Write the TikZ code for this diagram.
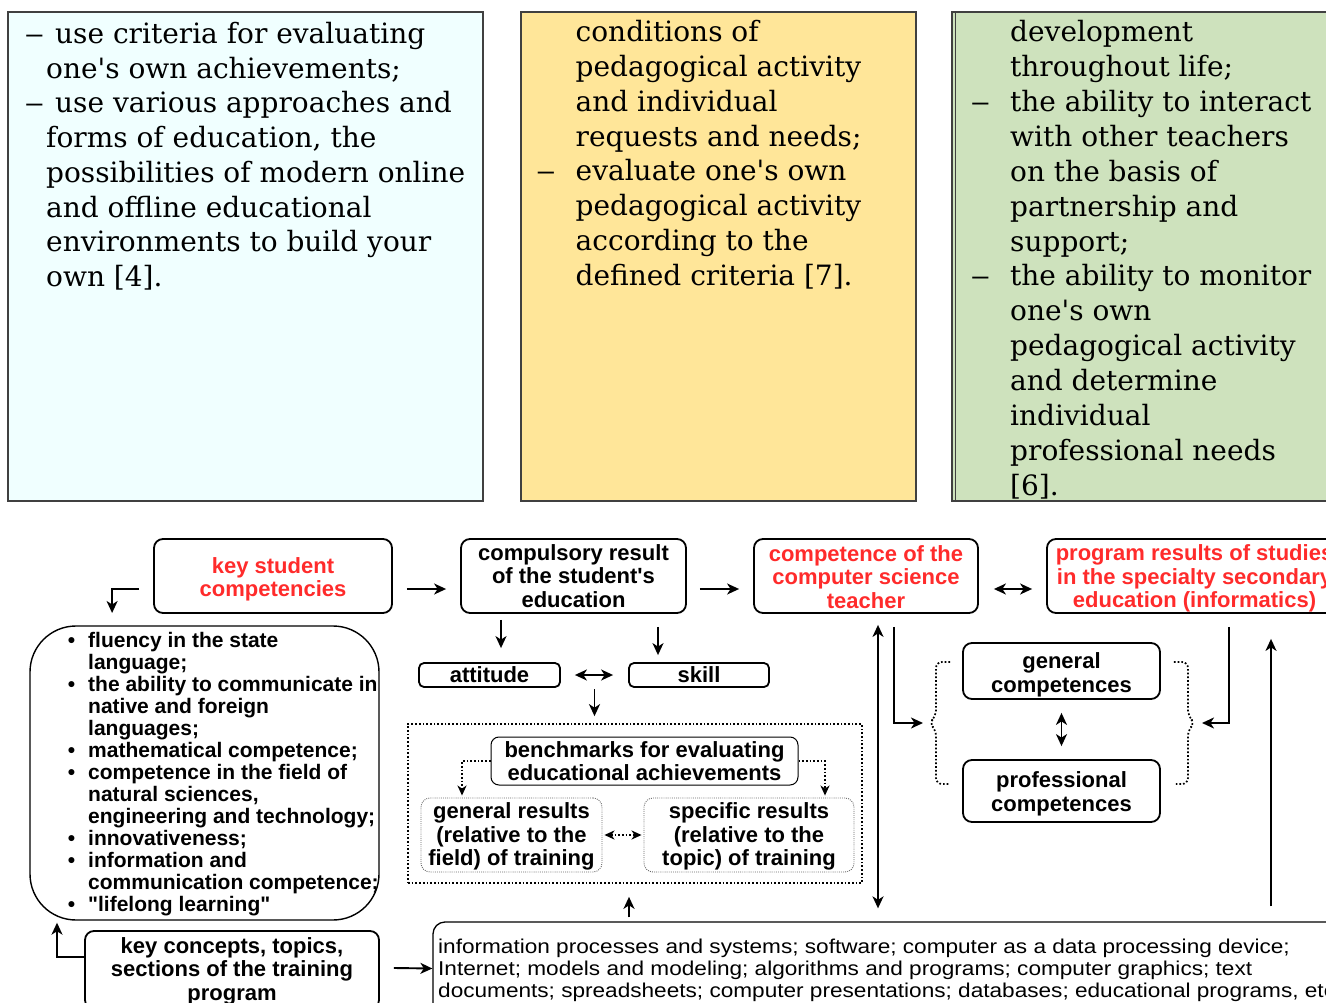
\documentclass[tikz,border=0pt]{standalone}
\usepackage{fontspec}
\setmainfont{DejaVu Serif}
\newfontfamily\serf{DejaVu Serif}
\newfontfamily\arialf{Liberation Sans}
\newfontfamily\arialw[FakeStretch=1.13]{Liberation Sans}
\usetikzlibrary{arrows.meta,calc}
\definecolor{pcyan}{HTML}{F0FFFF}
\definecolor{pyellow}{HTML}{FFE699}
\definecolor{pgreen}{HTML}{CEE2BD}
\definecolor{redtxt}{HTML}{FF2B2B}
\definecolor{pborder}{HTML}{404040}
\newcommand{\ldash}{\scalebox{1.4}[1]{–}}
\newcommand{\dA}{\hspace*{9pt}\llap{\ldash\hspace{11pt}}}
\newcommand{\dB}{\llap{\ldash\hspace{20pt}}}
\newcommand{\bul}{\llap{•\hspace{13pt}}}
\newcommand{\up}[1]{\rule{0pt}{#1pt}}
\tikzset{
  panel/.style={draw=pborder, line width=1.2pt},
  ptext/.style={anchor=base west, inner sep=0pt, font=\serf\fontsize{28}{34.75}\selectfont},
  bx/.style={draw, line width=1.8pt, rounded corners=9pt, inner sep=0pt, align=center,
    font=\arialf\bfseries\fontsize{22}{23.5}\selectfont},
  redt/.style={text=redtxt},
  ltext/.style={anchor=base west, inner sep=0pt, font=\arialf\bfseries\fontsize{21}{22}\selectfont},
  wtext/.style={anchor=base west, inner sep=0pt, font=\arialw\fontsize{20}{22}\selectfont},
  arr/.style={-{Stealth[length=12pt,width=11pt,inset=3.5pt]}, line width=1.9pt},
  darr/.style={{Stealth[length=12pt,width=11pt,inset=3.5pt]}-{Stealth[length=12pt,width=11pt,inset=3.5pt]}, line width=1.9pt},
  dots/.style={line width=1.7pt, dash pattern=on 1.7pt off 2pt},
  dotarr/.style={-{Stealth[length=10pt,width=9pt,inset=3pt]}, line width=1.7pt, dash pattern=on 1.7pt off 2pt},
  ddotarr/.style={{Stealth[length=10pt,width=9pt,inset=3pt]}-{Stealth[length=10pt,width=9pt,inset=3pt]}, line width=1.7pt, dash pattern=on 1.7pt off 2pt},
  resbox/.style={bx, draw=black!60, line width=0.9pt, dash pattern=on 0.9pt off 1.2pt},
}
\begin{document}
\begin{tikzpicture}[x=1pt,y=-1pt]
\useasboundingbox (0,0) rectangle (1326,1003);
% ---------- top panels ----------
\path[panel, fill=pcyan] (8,12) rectangle (483,501);
\path[panel, fill=pyellow] (521,12) rectangle (916,501);
\path[panel, fill=pgreen] (952,12) rectangle (1345,501);
\draw[pborder, line width=0.8pt] (955.5,12) -- (955.5,501);

\foreach \t [count=\i from 0] in {
  {\dA use criteria for evaluating},
  {one's own achievements;},
  {\dA use various approaches and},
  {forms of education, the},
  {possibilities of modern online},
  {and offline educational},
  {environments to build your},
  {own [4].}}
  \node[ptext] (la\i) at (46,43.5+34.75*\i) {\t};

\foreach \t [count=\i from 0] in {
  {conditions of},
  {pedagogical activity},
  {and individual},
  {requests and needs;},
  {\dB evaluate one's own},
  {pedagogical activity},
  {according to the},
  {defined criteria [7].}}
  \node[ptext] (ma\i) at (575.5,42+34.75*\i) {\t};

\foreach \t [count=\i from 0] in {
  {development},
  {throughout life;},
  {\dB the ability to interact},
  {with other teachers},
  {on the basis of},
  {partnership and},
  {support;},
  {\dB the ability to monitor},
  {one's own},
  {pedagogical activity},
  {and determine},
  {individual},
  {professional needs},
  {[6].}}
  \node[ptext] (ra\i) at (1010,42+34.85*\i) {\t};

% ---------- bottom diagram: boxes ----------
\node[bx, redt, minimum width=238, minimum height=74] (ksc) at (273,576) {\up{23}key student\\competencies};
\node[bx, minimum width=225, minimum height=74] (cres) at (573.5,576) {compulsory result\\of the student's\\education};
\node[bx, redt, minimum width=224, minimum height=74] (teach) at (866,576) {\up{18}competence of the\\computer science\\teacher};
\node[bx, redt, minimum width=295, minimum height=74] (prog) at (1194.5,576) {\up{21}program results of studies\\in the specialty secondary\\education (informatics)};
\node[bx, rounded corners=5pt, minimum width=141, minimum height=24] (att) at (489.5,675) {attitude};
\node[bx, rounded corners=5pt, minimum width=140, minimum height=24] (skill) at (699,675) {skill};
\node[dots, draw, minimum width=454, minimum height=159, inner sep=0pt] (bigdot) at (635,803.5) {};
\node[bx, line width=1pt, rounded corners=8pt, minimum width=307, minimum height=48] (bench) at (644.5,761) {benchmarks for evaluating\\educational achievements};
\node[resbox, minimum width=181, minimum height=74] (gres) at (511.5,835) {\up{19}general results\\(relative to the\\field) of training};
\node[resbox, minimum width=210, minimum height=74] (sres) at (749,835) {\up{19}specific results\\(relative to the\\topic) of training};
\node[bx, minimum width=197, minimum height=56] (gcomp) at (1061.5,671) {\up{24}general\\competences};
\node[bx, minimum width=197, minimum height=62] (pcomp) at (1061.5,791) {\up{22}professional\\competences};
\node[draw, line width=1.4pt, rounded corners=46pt, minimum width=349, minimum height=294, inner sep=0pt] (listbox) at (204.5,773) {};
\node[bx, minimum width=294, minimum height=78] (kcon) at (232,970) {\up{18}key concepts, topics,\\sections of the training\\program};
\node[draw, line width=1.3pt, rounded corners=12pt, minimum width=912, minimum height=93, inner sep=0pt] (wide) at (889,968.5) {};

\foreach \t [count=\i from 0] in {
  {\bul fluency in the state},
  {language;},
  {\bul the ability to communicate in},
  {native and foreign},
  {languages;},
  {\bul mathematical competence;},
  {\bul competence in the field of},
  {natural sciences,},
  {engineering and technology;},
  {\bul innovativeness;},
  {\bul information and},
  {communication competence;},
  {\bul "lifelong learning"}}
  \node[ltext] (li\i) at (88,647+22*\i) {\t};

\foreach \t [count=\i from 0] in {
  {information processes and systems; software; computer as a data processing device;},
  {Internet; models and modeling; algorithms and programs; computer graphics; text},
  {documents; spreadsheets; computer presentations; databases; educational programs, etc.}}
  \node[wtext] (wt\i) at (438,953+22*\i) {\t};

% ---------- connectors ----------
\draw[arr] ([shift={(14,13)}]ksc.east) -- ([shift={(-14,13)}]cres.west);
\draw[arr] ([shift={(13,13)}]cres.east) -- ([shift={(-14,13)}]teach.west);
\draw[darr] ([shift={(15,13)}]teach.east) -- ([shift={(-14,13)}]prog.west);
\draw[arr] ([shift={(-14,13)}]ksc.west) -- ++(-27,0) -- ++(0,24);
\draw[arr] ([shift={(-72.5,6)}]cres.south) -- ([shift={(11.5,-14)}]att.north);
\draw[arr] ([shift={(84.5,13)}]cres.south) -- ([shift={(-41,-7)}]skill.north);
\draw[darr] ([shift={(14,0)}]att.east) -- ([shift={(-15,0)}]skill.west);
\coordinate (mid) at ($(att.east)!0.5!(skill.west)$);
\coordinate (midb) at (mid |- bigdot.north);
\draw[arr] ([shift={(0,14)}]mid) -- ([shift={(0,-7)}]midb);
\draw[dotarr] (bench.west) -| ([shift={(-49.5,-2)}]gres.north);
\draw[dotarr] (bench.east) -| ([shift={(76,-2)}]sres.north);
\draw[ddotarr] ([shift={(2,0)}]gres.east) -- ([shift={(-2,0)}]sres.west);
\draw[arr] ([shift={(-260,-4)}]wide.north) -- ([shift={(-6,13)}]bigdot.south);
\draw[darr] ([shift={(12,11)}]teach.south) -- ([shift={(-11,-13)}]wide.north);
% braces
\coordinate (lbt) at (923,723);
\coordinate (rbt) at (1202,723);
\draw[dots, rounded corners=6pt] ([shift={(-12,-9)}]gcomp.west) -- (936,662) -- (936,716) -- (929,723) -- (936,730) -- (936,784) -- ([shift={(-12,-7)}]pcomp.west);
\draw[dots, rounded corners=6pt] ([shift={(13,-9)}]gcomp.east) -- (1188,662) -- (1188,716) -- (1195,723) -- (1188,730) -- (1188,784) -- ([shift={(15,-7)}]pcomp.east);
\draw[arr] ([shift={(28,13)}]teach.south) |- (lbt);
\draw[arr] ([shift={(34.5,13)}]prog.south) |- (rbt);
\draw[arr] ([shift={(382,-15)}]wide.north) -- ([shift={(76.5,25)}]prog.south);
\draw[darr] ([shift={(0,13)}]gcomp.south) -- ([shift={(0,-13)}]pcomp.north);
\draw[arr] ([shift={(0,-13)}]kcon.west) -| ([shift={(-147.5,2)}]listbox.south);
\draw[arr] ([shift={(14,-2)}]kcon.east) -- (wide.west);
\end{tikzpicture}
\end{document}
